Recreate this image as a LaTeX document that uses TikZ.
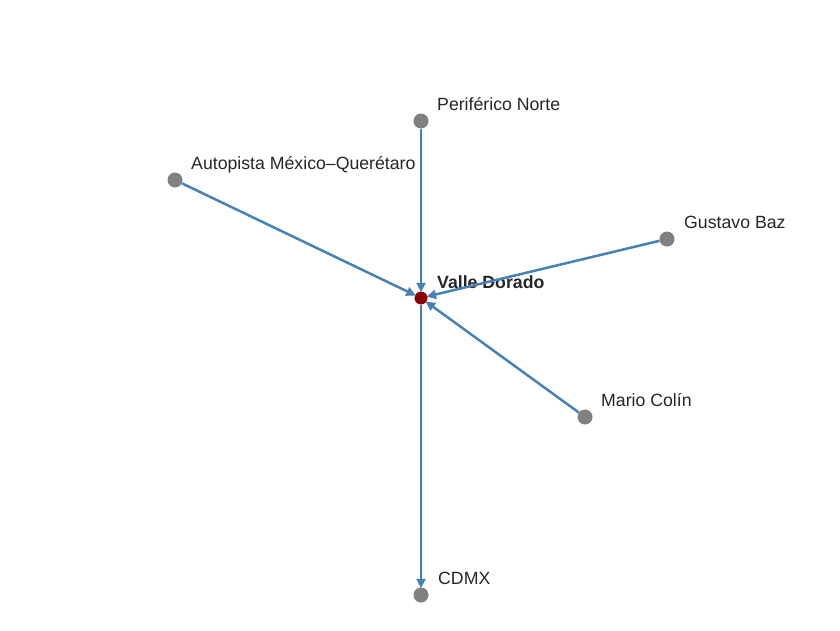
\documentclass[tikz,border=0pt]{standalone}
\usepackage{fontspec}
\setmainfont{Liberation Sans}
\usetikzlibrary{arrows.meta}
\definecolor{edgeblue}{RGB}{70,130,180}
\definecolor{txtgray}{RGB}{38,38,38}

\begin{document}
\begin{tikzpicture}[x=1pt,y=-1pt,>={Triangle[length=9.5pt,width=9pt]}]
				\useasboundingbox (0,0) rectangle (840,630);
				\tikzstyle{every node} = [circle,fill=gray,inner sep=0pt,minimum size=15pt];
				\tikzstyle{hub} = [circle,fill=red!55!black,minimum size=13pt];
				\tikzstyle{lbl} = [rectangle,fill=none,anchor=base west,text=txtgray,font=\fontsize{17.7}{20}\selectfont,minimum size=0pt];
				\tikzstyle{road} = [draw=edgeblue,line width=2.5pt,shorten >=-1pt];
				\node[hub] (vd) at (421, 298) {};
				\node (pn) at (421, 121) {};
				\node (amq) at (175, 180) {};
				\node (gb) at (667, 239) {};
				\node (mc) at (585, 417) {};
				\node (cdmx) at (421, 595) {};
				\node[lbl] (vdl) at (437, 288) {\bfseries Valle Dorado};
				\node[lbl] (pnl) at (437, 110) {Periférico Norte};
				\node[lbl] (amql) at (191, 169) {Autopista México–Querétaro};
				\node[lbl] (gbl) at (684, 228) {Gustavo Baz};
				\node[lbl] (mcl) at (601, 406) {Mario Colín};
				\node[lbl] (cdmxl) at (438, 584) {CDMX};
				\draw[->,style=road] (pn) -- (vd);
				\draw[->,style=road] (amq) -- (vd);
				\draw[->,style=road] (gb) -- (vd);
				\draw[->,style=road] (mc) -- (vd);
				\draw[->,style=road] (vd) -- (cdmx);
			\end{tikzpicture}
\end{document}
